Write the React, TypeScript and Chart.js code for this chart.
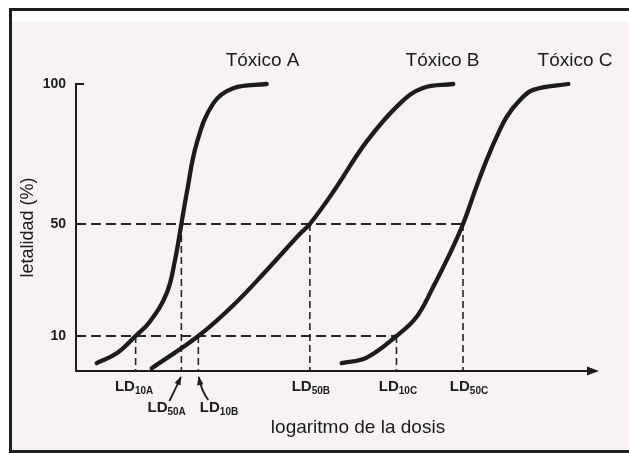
import React, { useEffect, useRef } from 'react';
import { Chart, registerables } from 'chart.js';

Chart.register(...registerables);

const FONT = "'Liberation Sans', Arial, Helvetica, sans-serif";
const INK = '#1c1c1c';

// ---- data (x = logaritmo de la dosis, arbitrary units; y = letalidad %) ----
const SERIES_NAMES = ['Tóxico A', 'Tóxico B', 'Tóxico C'];
const SERIES_LABEL_X = [3.63, 7.13, 9.71];

const A_X = [0.403, 0.792, 1.16, 1.44, 1.765, 1.926, 2.05, 2.154, 2.348, 2.671, 3.06, 3.71];
const A_Y = [0.3, 3.8, 10, 15.2, 25.3, 37.1, 50, 61, 78.8, 93.1, 98.5, 100];

const B_X = [1.473, 2.38, 3.06, 3.71, 4.358, 4.55, 5.006, 5.656, 6.304, 6.751, 7.34];
const B_Y = [-1.5, 10, 21, 33.5, 46.5, 50, 61.5, 79.5, 93.1, 98.6, 100];

const C_X = [5.169, 5.656, 6.235, 6.628, 6.951, 7.276, 7.53, 7.79, 7.99, 8.185, 8.38, 8.638, 8.897, 9.578];
const C_Y = [0.3, 2.3, 10, 16.9, 27.6, 39.5, 50, 63.3, 72.9, 81.2, 88.3, 94.3, 97.9, 100];

const Y_TICKS = [10, 50, 100];
const X_MIN = 0;
const X_MAX = 10;
const Y_MIN = -2.5;
const Y_MAX = 100;

const LD_SUBS = ['10A', '50A', '10B', '50B', '10C', '50C'];
const LD_X = [1.16, 2.05, 2.38, 4.55, 6.235, 7.53];
const LD_LEVEL = [10, 50, 10, 50, 10, 50];

const Y_TITLE = 'letalidad (%)';
const X_TITLE = 'logaritmo de la dosis';

// ---- layout of annotation text (pixels) ----
const LD_LAYOUT = {
  row: [0, 1, 1, 0, 0, 0],
  dx: [-1.5, -14.7, 20.7, 1, 1.5, 6],
};

const pts = (xs: number[], ys: number[]) => xs.map((x, i) => ({ x, y: ys[i] }));

function drawArrow(ctx: CanvasRenderingContext2D, x0: number, y0: number, cx: number, cy: number, x1: number, y1: number) {
  ctx.beginPath();
  ctx.moveTo(x0, y0);
  ctx.quadraticCurveTo(cx, cy, x1, y1);
  ctx.stroke();
  const ang = Math.atan2(y1 - cy, x1 - cx);
  const L = 8, W = 3.2;
  ctx.beginPath();
  ctx.moveTo(x1 + Math.cos(ang) * 1, y1 + Math.sin(ang) * 1);
  ctx.lineTo(x1 - Math.cos(ang) * L - Math.sin(ang) * W, y1 - Math.sin(ang) * L + Math.cos(ang) * W);
  ctx.lineTo(x1 - Math.cos(ang) * L + Math.sin(ang) * W, y1 - Math.sin(ang) * L - Math.cos(ang) * W);
  ctx.closePath();
  ctx.fill();
}

const overlay = {
  id: 'overlay',
  afterDraw(chart: any) {
    const { ctx, chartArea: ca, scales } = chart;
    const x = scales.x;
    const y = scales.y;
    ctx.save();
    ctx.strokeStyle = INK;
    ctx.fillStyle = INK;

    // small tick at 100
    const y100 = y.getPixelForValue(100);
    ctx.lineWidth = 2;
    ctx.beginPath();
    ctx.moveTo(ca.left, y100);
    ctx.lineTo(ca.left + 8, y100);
    ctx.stroke();

    // arrow head at the end of the x axis
    const ay = ca.bottom;
    ctx.beginPath();
    ctx.moveTo(ca.right - 3, ay - 4.5);
    ctx.lineTo(ca.right + 9, ay);
    ctx.lineTo(ca.right - 3, ay + 4.5);
    ctx.closePath();
    ctx.fill();

    // LD labels with subscripts
    ctx.textAlign = 'left';
    ctx.textBaseline = 'alphabetic';
    const big = `bold 15px ${FONT}`;
    const small = `bold 10px ${FONT}`;
    LD_SUBS.forEach((sub, i) => {
      const lineX = x.getPixelForValue(LD_X[i]);
      const cx = lineX + LD_LAYOUT.dx[i];
      const base = LD_LAYOUT.row[i] ? ca.bottom + 41 : ca.bottom + 20;
      ctx.font = big;
      const w1 = ctx.measureText('LD').width;
      ctx.font = small;
      const w2 = ctx.measureText(sub).width;
      const start = cx - (w1 + w2) / 2;
      ctx.font = big;
      ctx.fillText('LD', start, base);
      ctx.font = small;
      ctx.fillText(sub, start + w1, base + 3);
    });

    // arrows from lower labels up to their lines
    ctx.lineWidth = 1.8;
    const p50A = x.getPixelForValue(LD_X[1]);
    drawArrow(ctx, p50A - 12, ca.bottom + 30, p50A - 6, ca.bottom + 18, p50A - 0.5, ca.bottom + 6);
    const p10B = x.getPixelForValue(LD_X[2]);
    drawArrow(ctx, p10B + 10, ca.bottom + 29, p10B + 3, ca.bottom + 20, p10B + 0.5, ca.bottom + 6);

    // series names
    ctx.font = `19px ${FONT}`;
    ctx.textAlign = 'center';
    SERIES_NAMES.forEach((name, i) => {
      ctx.fillText(name, x.getPixelForValue(SERIES_LABEL_X[i]), ca.top - 18);
    });

    // x axis title
    ctx.fillText(X_TITLE, (ca.left + ca.right) / 2 + 25, ca.bottom + 62);

    ctx.restore();
  },
};

export default function App() {
  const ref = useRef<HTMLCanvasElement>(null);

  useEffect(() => {
    const canvas = ref.current;
    if (!canvas) return;
    Chart.defaults.font.family = FONT;

    const curveStyle = {
      borderColor: INK,
      borderWidth: 4.3,
      pointRadius: 0,
      borderCapStyle: 'round' as const,
      tension: 0.4,
      fill: false,
      clip: false as any,
    };
    const hDash = { borderColor: '#262626', borderWidth: 2.2, borderDash: [10, 5], pointRadius: 0, fill: false, tension: 0 };
    const vDash = { borderColor: '#262626', borderWidth: 1.6, borderDash: [7, 4], pointRadius: 0, fill: false, tension: 0 };

    const datasets: any[] = [
      { label: SERIES_NAMES[0], data: pts(A_X, A_Y), ...curveStyle },
      { label: SERIES_NAMES[1], data: pts(B_X, B_Y), ...curveStyle },
      { label: SERIES_NAMES[2], data: pts(C_X, C_Y), ...curveStyle },
      { label: 'LD50', data: [{ x: X_MIN, y: 50 }, { x: LD_X[5], y: 50 }], ...hDash },
      { label: 'LD10', data: [{ x: X_MIN, y: 10 }, { x: LD_X[4], y: 10 }], ...hDash },
      ...LD_X.map((lx, i) => ({
        label: 'LD' + LD_SUBS[i],
        data: [{ x: lx, y: LD_LEVEL[i] }, { x: lx, y: Y_MIN }],
        ...vDash,
      })),
    ];

    const chart = new Chart(canvas, {
      type: 'line',
      data: { datasets },
      options: {
        responsive: false,
        animation: false,
        devicePixelRatio: 1,
        layout: { padding: { left: 0, top: 84, right: 39, bottom: 0 } },
        plugins: { legend: { display: false }, tooltip: { enabled: false } },
        scales: {
          x: {
            type: 'linear',
            min: X_MIN,
            max: X_MAX,
            ticks: { display: false },
            grid: { display: false, drawTicks: false },
            border: { display: true, color: INK, width: 2 },
            afterFit: (s: any) => { s.height = 82; },
          },
          y: {
            type: 'linear',
            min: Y_MIN,
            max: Y_MAX,
            afterBuildTicks: (s: any) => { s.ticks = Y_TICKS.map((v) => ({ value: v })); },
            ticks: { padding: 10, color: INK, font: { family: FONT, size: 14, weight: 'bold' } },
            grid: { display: false, drawTicks: false },
            border: { display: true, color: INK, width: 2 },
            title: {
              display: true,
              text: Y_TITLE,
              color: INK,
              font: { family: FONT, size: 18 },
              padding: { top: 17, bottom: 0 },
            },
            afterFit: (s: any) => { s.width = 76; },
          },
        },
      } as any,
      plugins: [overlay],
    });
    return () => chart.destroy();
  }, []);

  return (
    <div style={{ position: 'fixed', left: 0, top: 0, width: 629, height: 453, overflow: 'hidden', background: '#ffffff' }}>
      <div style={{ position: 'absolute', left: 9, top: 8, width: 660, height: 445, boxSizing: 'border-box', border: '3px solid #1e1e1e', background: '#ffffff' }} />
      <div style={{ position: 'absolute', left: 12, top: 22, width: 640, height: 428, background: '#f6f2f5' }} />
      <canvas ref={ref} width={629} height={453} style={{ position: 'absolute', left: 0, top: 0, width: 629, height: 453 }} />
    </div>
  );
}
